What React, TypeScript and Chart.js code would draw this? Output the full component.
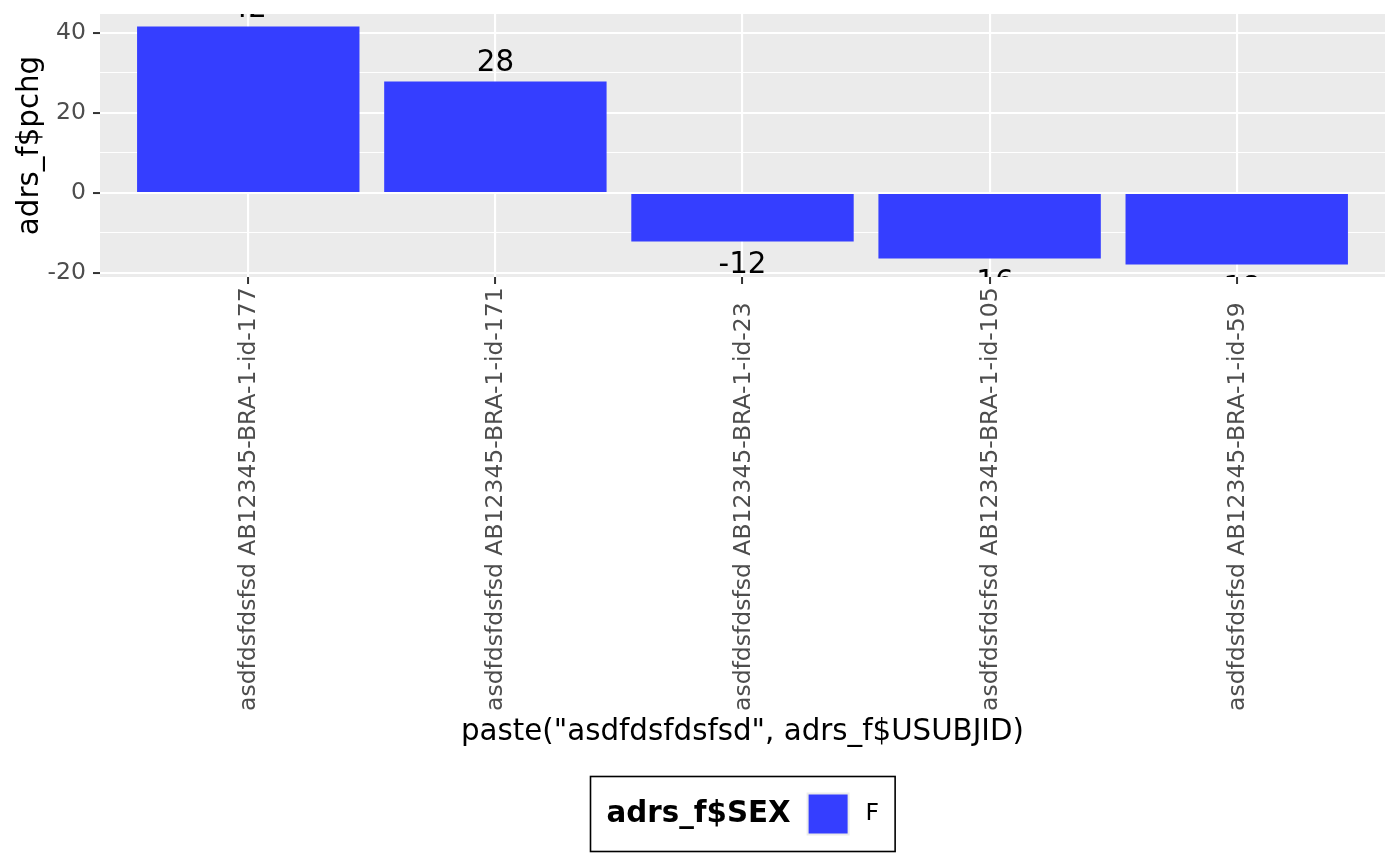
import React, { useEffect, useRef } from "react";
import { Chart, registerables } from "chart.js";

Chart.register(...registerables);

const FONT = '"DejaVu Sans", "Liberation Sans", sans-serif';

const categories = [
  "asdfdsfdsfsd AB12345-BRA-1-id-177",
  "asdfdsfdsfsd AB12345-BRA-1-id-171",
  "asdfdsfdsfsd AB12345-BRA-1-id-23",
  "asdfdsfdsfsd AB12345-BRA-1-id-105",
  "asdfdsfdsfsd AB12345-BRA-1-id-59",
];
const pchg = [41.6, 27.9, -12.1, -16.4, -17.9];
const barLabels = ["42", "28", "-12", "-16", "-18"];
const yTicks = [-20, -10, 0, 10, 20, 30, 40];
const yLabelTicks = [-20, 0, 20, 40];
const legendTitle = "adrs_f$SEX";
const legendItems = ["F"];
const xTitle = 'paste("asdfdsfdsfsd", adrs_f$USUBJID)';
const yTitle = "adrs_f$pchg";

const BAR_COLOR = "#353EFF";
const TICK_SIZE = 23.5;
const TITLE_SIZE = 29.3;

export default function App() {
  const ref = useRef<HTMLCanvasElement>(null);

  useEffect(() => {
    document.body.style.margin = "0";
    const canvas = ref.current!;

    const bgPlugin = {
      id: "panelBg",
      beforeDraw(chart: any) {
        const { ctx, chartArea: a } = chart;
        ctx.save();
        ctx.fillStyle = "#ffffff";
        ctx.fillRect(0, 0, chart.width, chart.height);
        ctx.fillStyle = "#EBEBEB";
        ctx.fillRect(a.left, a.top, a.right - a.left, a.bottom - a.top);
        ctx.restore();
      },
    };

    const labelPlugin = {
      id: "barLabels",
      afterDatasetsDraw(chart: any) {
        const { ctx, chartArea: a } = chart;
        const meta = chart.getDatasetMeta(0);
        ctx.save();
        ctx.beginPath();
        ctx.rect(a.left, a.top, a.right - a.left, a.bottom - a.top);
        ctx.clip();
        ctx.fillStyle = "#000000";
        ctx.font = `${TITLE_SIZE}px ${FONT}`;
        ctx.textAlign = "center";
        ctx.textBaseline = "alphabetic";
        meta.data.forEach((el: any, i: number) => {
          const p = el.getProps(["x", "y"], true);
          const v = pchg[i];
          const y = v >= 0 ? p.y - 10 : p.y + 32;
          ctx.fillText(barLabels[i], p.x, y);
        });
        ctx.restore();
      },
    };

    const xLabelPlugin = {
      id: "xLabels",
      afterDraw(chart: any) {
        const { ctx } = chart;
        const xs = chart.scales.x;
        ctx.save();
        ctx.fillStyle = "#4D4D4D";
        ctx.font = `${TICK_SIZE}px ${FONT}`;
        ctx.textAlign = "left";
        ctx.textBaseline = "middle";
        categories.forEach((c, i) => {
          const px = xs.getPixelForValue(i + 1);
          ctx.save();
          ctx.translate(px + 1, 711);
          ctx.rotate(-Math.PI / 2);
          ctx.fillText(c, 0, 0);
          ctx.restore();
        });
        ctx.restore();
      },
    };

    const legendPlugin = {
      id: "ggLegend",
      afterDraw(chart: any) {
        const { ctx, chartArea: a } = chart;
        ctx.save();
        const pad = 16;
        const gap = 16;
        const key = 43;
        ctx.font = `bold ${TITLE_SIZE}px ${FONT}`;
        const titleW = ctx.measureText(legendTitle).width;
        ctx.font = `${TICK_SIZE}px ${FONT}`;
        const labelW = ctx.measureText(legendItems[0]).width;
        const w = pad + titleW + gap + key + gap + labelW + pad;
        const h = 75;
        const cx = (a.left + a.right) / 2;
        const x0 = Math.round(cx - w / 2) + 0.5;
        const y0 = 776.5;
        ctx.fillStyle = "#ffffff";
        ctx.fillRect(x0, y0, w, h);
        ctx.strokeStyle = "#000000";
        ctx.lineWidth = 1.6;
        ctx.strokeRect(x0, y0, w, h);
        const cy = y0 + h / 2;
        ctx.fillStyle = "#000000";
        ctx.textBaseline = "middle";
        ctx.textAlign = "left";
        ctx.font = `bold ${TITLE_SIZE}px ${FONT}`;
        ctx.fillText(legendTitle, x0 + pad, cy);
        const kx = x0 + pad + titleW + gap;
        const ky = cy - key / 2;
        ctx.fillStyle = "#EBEBEB";
        ctx.fillRect(kx, ky, key, key);
        ctx.fillStyle = BAR_COLOR;
        ctx.fillRect(kx + 2, ky + 2, key - 4, key - 4);
        ctx.fillStyle = "#000000";
        ctx.font = `${TICK_SIZE}px ${FONT}`;
        ctx.fillText(legendItems[0], kx + key + gap, cy);
        ctx.restore();
      },
    };

    const chart = new Chart(canvas, {
      type: "bar",
      data: {
        datasets: [
          {
            label: legendItems[0],
            data: pchg.map((v, i) => ({ x: i + 1, y: v })),
            backgroundColor: BAR_COLOR,
            borderWidth: 0,
            barPercentage: 0.9,
            categoryPercentage: 1.0,
          },
        ],
      },
      options: {
        responsive: false,
        animation: false,
        layout: { padding: { top: 14, right: 15, left: 0, bottom: 106 } },
        plugins: {
          legend: { display: false },
          tooltip: { enabled: false },
        },
        scales: {
          x: {
            type: "linear",
            min: 0.4,
            max: 5.6,
            offset: false,
            border: { display: false },
            afterBuildTicks(scale: any) {
              scale.ticks = categories.map((_, i) => ({ value: i + 1 }));
            },
            afterFit(scale: any) {
              scale.height = 483;
              scale.paddingLeft = 0;
              scale.paddingRight = 0;
            },
            grid: {
              offset: false,
              color: "#ffffff",
              lineWidth: 2.1,
              drawTicks: true,
              tickLength: 7,
              tickColor: "#333333",
              tickWidth: 2,
            },
            ticks: {
              display: false,
              autoSkip: false,
            },
            title: {
              display: true,
              text: xTitle,
              color: "#000000",
              font: { family: FONT, size: TITLE_SIZE },
              padding: { top: 0, bottom: 10 },
            },
          },
          y: {
            type: "linear",
            min: -21,
            max: 44.75,
            border: { display: false },
            afterBuildTicks(scale: any) {
              scale.ticks = yTicks.map((v) => ({ value: v }));
            },
            afterFit(scale: any) {
              scale.width = 100;
              scale.paddingTop = 0;
              scale.paddingBottom = 0;
            },
            grid: {
              color: "#ffffff",
              lineWidth: (c: any) =>
                yLabelTicks.includes(c.tick?.value) ? 2.1 : 1.05,
              drawTicks: true,
              tickLength: 7,
              tickWidth: 2,
              tickColor: (c: any) =>
                yLabelTicks.includes(c.tick?.value) ? "#333333" : "rgba(0,0,0,0)",
            },
            ticks: {
              padding: 7,
              color: "#4D4D4D",
              font: { family: FONT, size: TICK_SIZE },
              callback: (v: any) =>
                yLabelTicks.includes(Number(v)) ? String(v) : "",
            },
            title: {
              display: true,
              text: yTitle,
              color: "#000000",
              font: { family: FONT, size: TITLE_SIZE },
              padding: { top: 13, bottom: 0 },
            },
          },
        },
      },
      plugins: [bgPlugin, labelPlugin, xLabelPlugin, legendPlugin],
    } as any);

    return () => chart.destroy();
  }, []);

  return (
    <div style={{ position: "fixed", left: 0, top: 0, width: 1400, height: 866 }}>
      <canvas ref={ref} width={1400} height={866} style={{ display: "block", width: 1400, height: 866 }} />
    </div>
  );
}
